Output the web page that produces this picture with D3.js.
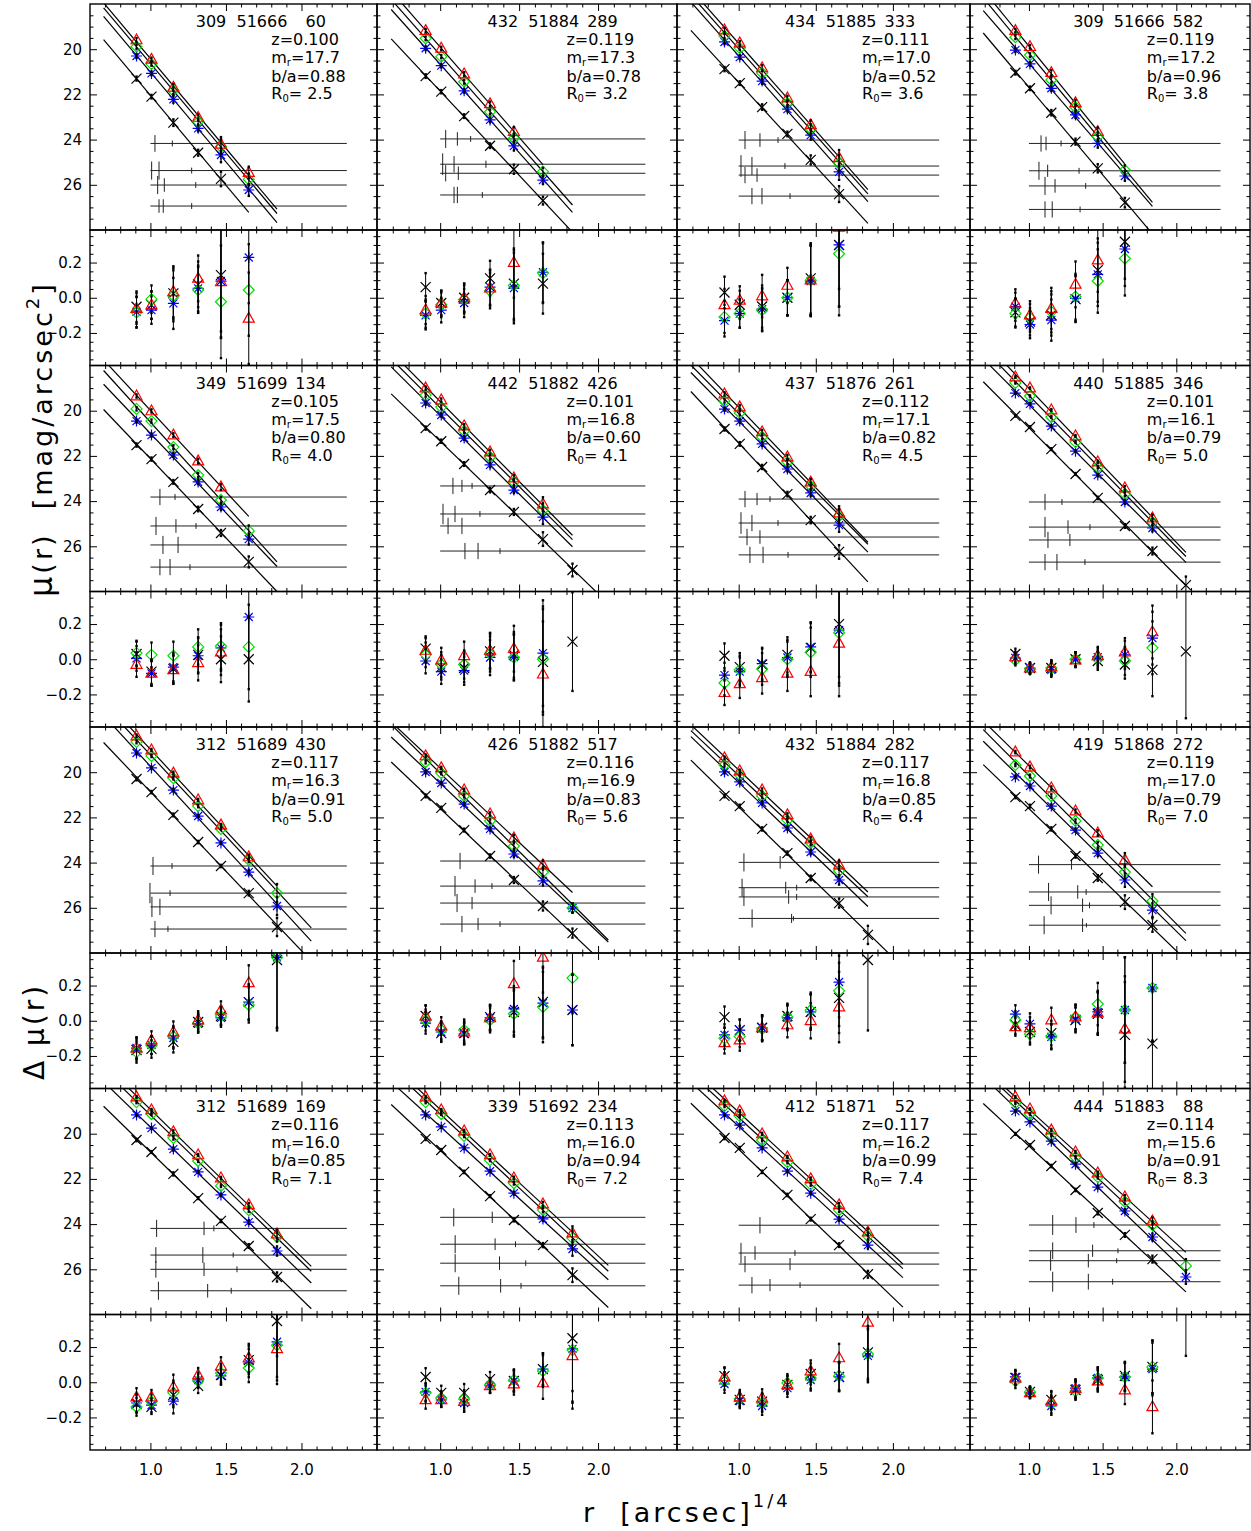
<!DOCTYPE html>
<html>
<head>
<meta charset="utf-8">
<script src="https://cdn.jsdelivr.net/npm/d3@7"></script>
<style>
body { margin: 0; background: #fff; }
text { font-family: "DejaVu Sans", sans-serif; fill: #000; }
.tick text { font-size: 15px; }
.lab { font-size: 16px; }
</style>
</head>
<body>
<svg id="fig" width="1251" height="1531"></svg>
<script>
// r^(1/4) of the aperture radii [arcsec]
var radii = [0.908, 1.007, 1.152, 1.316, 1.467, 1.651, 1.838, 2.065];
var fitStart = 0.69;

// galaxy identifiers and parameters, one entry per panel
var plates = [309, 432, 434, 309, 349, 442, 437, 440, 312, 426, 432, 419, 312, 339, 412, 444];
var mjds = [51666, 51884, 51885, 51666, 51699, 51882, 51876, 51885, 51689, 51882, 51884, 51868, 51689, 51692, 51871, 51883];
var fibers = [60, 289, 333, 582, 134, 426, 261, 346, 430, 517, 282, 272, 169, 234, 52, 88];
var redshifts = [0.100, 0.119, 0.111, 0.119, 0.105, 0.101, 0.112, 0.101, 0.117, 0.116, 0.117, 0.119, 0.116, 0.113, 0.117, 0.114];
var magR = [17.7, 17.3, 17.0, 17.2, 17.5, 16.8, 17.1, 16.1, 16.3, 16.9, 16.8, 17.0, 16.0, 16.0, 16.2, 15.6];
var axisRatio = [0.88, 0.78, 0.52, 0.96, 0.80, 0.60, 0.82, 0.79, 0.91, 0.83, 0.85, 0.79, 0.85, 0.94, 0.99, 0.91];
var r0 = [2.5, 3.2, 3.6, 3.8, 4.0, 4.1, 4.5, 5.0, 5.0, 5.6, 6.4, 7.0, 7.1, 7.2, 7.4, 8.3];

// surface brightness profiles mu(r) [mag/arcsec^2]
var muRed = [
  [19.59, 20.45, 21.69, 23.02, 24.21, 25.46],
  [19.18, 19.96, 21.10, 22.42, 23.65],
  [19.15, 19.73, 20.83, 22.16, 23.35, 24.81],
  [19.18, 19.89, 21.04, 22.37, 23.65],
  [19.35, 20.01, 21.08, 22.23, 23.38],
  [19.00, 19.53, 20.68, 21.83, 22.98, 24.13],
  [19.26, 19.84, 20.94, 22.05, 23.16, 24.53],
  [18.51, 19.00, 19.97, 21.12, 22.27, 23.42, 24.75],
  [18.40, 19.02, 20.04, 21.23, 22.34, 23.75],
  [19.28, 19.81, 20.79, 21.85, 22.91, 24.11],
  [19.37, 19.95, 20.79, 21.89, 22.96, 24.11],
  [19.11, 19.77, 20.70, 21.72, 22.69, 23.88],
  [18.38, 18.95, 19.92, 20.94, 21.96, 23.15, 24.44],
  [18.38, 18.95, 19.88, 20.94, 21.96, 23.11, 24.40],
  [18.55, 19.00, 20.01, 21.03, 22.00, 23.15, 24.35],
  [18.38, 18.91, 19.84, 20.81, 21.74, 22.80, 23.86]
];
var muGreen = [
  [19.89, 20.65, 21.84, 23.21, 24.31, 25.76],
  [19.52, 20.33, 21.44, 22.77, 23.94, 25.42],
  [19.42, 19.95, 21.05, 22.38, 23.53, 25.04],
  [19.47, 20.26, 21.36, 22.57, 23.87, 25.35],
  [19.92, 20.46, 21.61, 22.85, 23.95, 25.32],
  [19.31, 19.84, 20.90, 22.05, 23.16, 24.40],
  [19.57, 20.10, 21.16, 22.27, 23.33, 24.66],
  [18.77, 19.35, 20.28, 21.39, 22.50, 23.69, 24.93],
  [18.66, 19.28, 20.26, 21.50, 22.51, 23.88, 25.35],
  [19.55, 20.04, 21.05, 22.16, 23.27, 24.42, 26.01],
  [19.68, 20.12, 21.05, 22.12, 23.13, 24.37],
  [19.68, 20.17, 21.05, 22.16, 23.22, 24.42, 25.70],
  [18.60, 19.13, 20.19, 21.21, 22.31, 23.38, 24.57],
  [18.60, 19.13, 20.10, 21.17, 22.19, 23.38, 24.62],
  [18.77, 19.22, 20.28, 21.26, 22.24, 23.38, 24.53],
  [18.64, 19.13, 20.06, 21.04, 21.92, 23.02, 24.04, 25.85]
];
var muBlue = [
  [20.30, 21.07, 22.22, 23.50, 24.68, 26.23],
  [19.96, 20.73, 21.84, 23.13, 24.28, 25.79],
  [19.68, 20.35, 21.41, 22.65, 23.80, 25.43],
  [20.04, 20.65, 21.73, 22.91, 24.17, 25.61],
  [20.46, 21.08, 21.96, 23.15, 24.26, 25.68],
  [19.66, 20.19, 21.21, 22.40, 23.51, 24.71],
  [19.93, 20.46, 21.47, 22.58, 23.64, 25.06],
  [19.22, 19.70, 20.68, 21.79, 22.85, 24.04, 25.19],
  [19.15, 19.81, 20.79, 21.94, 23.13, 24.42, 25.92],
  [19.99, 20.48, 21.41, 22.51, 23.62, 24.81, 26.01],
  [19.99, 20.43, 21.36, 22.47, 23.53, 24.77],
  [20.21, 20.61, 21.50, 22.56, 23.58, 24.77, 26.10],
  [19.17, 19.75, 20.68, 21.69, 22.71, 23.91, 25.19],
  [19.17, 19.70, 20.63, 21.66, 22.63, 23.77, 25.10],
  [19.17, 19.62, 20.63, 21.66, 22.63, 23.78, 24.93],
  [19.00, 19.48, 20.33, 21.35, 22.36, 23.42, 24.57, 26.34]
];
var muBlack = [
  [21.30, 22.10, 23.25, 24.58, 25.74],
  [21.19, 21.88, 22.96, 24.27, 25.31, 26.70],
  [20.88, 21.50, 22.56, 23.75, 24.90, 26.41],
  [21.04, 21.73, 22.81, 24.09, 25.27, 26.79],
  [21.52, 22.14, 23.15, 24.35, 25.41, 26.69],
  [20.77, 21.35, 22.36, 23.51, 24.48, 25.68, 27.05],
  [20.81, 21.47, 22.49, 23.69, 24.84, 26.25],
  [20.23, 20.72, 21.70, 22.80, 23.86, 25.10, 26.21, 27.72],
  [20.30, 20.88, 21.89, 23.09, 24.15, 25.35, 26.85],
  [21.05, 21.58, 22.56, 23.71, 24.77, 25.92, 27.12],
  [21.05, 21.50, 22.51, 23.58, 24.68, 25.79, 27.20],
  [21.10, 21.50, 22.51, 23.71, 24.68, 25.75, 26.76],
  [20.28, 20.81, 21.78, 22.85, 23.86, 24.97, 26.34],
  [20.23, 20.72, 21.69, 22.76, 23.82, 24.93, 26.26],
  [20.19, 20.63, 21.69, 22.71, 23.78, 24.93, 26.22],
  [20.01, 20.50, 21.43, 22.49, 23.51, 24.48, 25.55]
];

// residuals from the fits, Delta mu(r)
var resRed = [
  [-0.061, -0.042, 0.034, 0.110, 0.091, -0.117],
  [-0.07, -0.03, 0.0, 0.055, 0.2],
  [-0.04, -0.015, 0.01, 0.07, 0.1, 0.4],
  [-0.032, -0.098, -0.061, 0.076, 0.214],
  [-0.03, -0.08, -0.06, -0.02, 0.04],
  [0.05, -0.005, 0.02, 0.05, 0.06, -0.085],
  [-0.19, -0.14, -0.105, -0.08, -0.07, 0.09],
  [0.013, -0.05, -0.045, -0.005, 0.02, 0.04, 0.155],
  [-0.155, -0.11, -0.064, 0.004, 0.06, 0.215],
  [0.027, -0.03, -0.064, 0.016, 0.21, 0.36],
  [-0.126, -0.11, -0.04, -0.024, 0.0, 0.078],
  [-0.035, -0.04, 0.004, 0.021, 0.044, -0.047],
  [-0.084, -0.084, -0.027, 0.041, 0.092, 0.138, 0.19],
  [-0.1, -0.1, -0.11, -0.02, -0.01, -0.004, 0.15],
  [0.03, -0.084, -0.09, -0.015, 0.064, 0.138, 0.34],
  [0.024, -0.06, -0.107, -0.038, 0.007, -0.044, -0.14]
];
var resGreen = [
  [-0.083, -0.008, 0.011, 0.044, -0.023, 0.044],
  [-0.09, -0.04, -0.01, 0.04, 0.07, 0.14],
  [-0.11, -0.09, -0.07, 0.0, 0.1, 0.25],
  [-0.089, -0.114, -0.08, 0.006, 0.095, 0.223],
  [0.035, 0.025, 0.02, 0.07, 0.075, 0.07],
  [0.025, -0.03, -0.03, 0.03, 0.01, 0.0],
  [-0.135, -0.06, -0.055, 0.0, 0.04, 0.15],
  [-0.005, -0.055, -0.05, 0.0, 0.0, -0.01, 0.065],
  [-0.178, -0.14, -0.09, -0.013, 0.027, 0.09, 0.36],
  [0.004, -0.053, -0.053, 0.004, 0.04, 0.078, 0.243],
  [-0.1, -0.09, -0.047, 0.021, 0.06, 0.17],
  [0.004, -0.075, -0.087, 0.021, 0.095, 0.061, 0.186],
  [-0.14, -0.11, -0.06, 0.007, 0.053, 0.081, 0.21],
  [-0.06, -0.09, -0.095, -0.016, 0.013, 0.064, 0.183],
  [0.007, -0.095, -0.118, -0.004, 0.024, 0.036, 0.16],
  [0.007, -0.055, -0.124, -0.05, 0.024, 0.03, 0.087]
];
var resBlue = [
  [-0.080, -0.070, -0.032, 0.053, 0.095, 0.229],
  [-0.1, -0.07, -0.03, 0.06, 0.055, 0.145],
  [-0.13, -0.09, -0.065, 0.0, 0.095, 0.3],
  [-0.051, -0.152, -0.127, -0.004, 0.133, 0.277],
  [0.005, -0.08, -0.045, 0.02, 0.065, 0.24],
  [-0.01, -0.07, -0.065, 0.01, 0.012, 0.035],
  [-0.09, -0.07, -0.025, 0.01, 0.07, 0.165],
  [0.007, -0.05, -0.06, 0.0, 0.012, 0.025, 0.12],
  [-0.155, -0.138, -0.098, -0.018, 0.016, 0.106, 0.36],
  [-0.013, -0.064, -0.075, 0.016, 0.067, 0.1, 0.061],
  [-0.08, -0.053, -0.04, 0.016, 0.05, 0.22],
  [0.038, -0.018, -0.092, 0.01, 0.05, 0.061, 0.186],
  [-0.118, -0.13, -0.107, 0.013, 0.036, 0.109, 0.23],
  [-0.055, -0.1, -0.118, -0.021, 0.007, 0.075, 0.19],
  [-0.01, -0.107, -0.135, -0.033, 0.013, 0.03, 0.15],
  [0.03, -0.06, -0.135, -0.033, 0.024, 0.03, 0.075]
];
var resBlack = [
  [-0.051, -0.042, 0.025, 0.076, 0.129],
  [0.06, -0.03, 0.0, 0.11, 0.08, 0.08],
  [0.03, -0.04, -0.05, 0.0, 0.11, 0.3],
  [-0.083, -0.136, -0.098, -0.008, 0.157, 0.318],
  [0.03, -0.07, -0.055, 0.025, 0.0, 0.0],
  [0.06, -0.045, -0.05, 0.045, 0.025, -0.015, 0.1],
  [0.02, -0.045, -0.03, 0.025, 0.065, 0.2],
  [0.03, -0.05, -0.05, 0.0, -0.01, -0.03, -0.06, 0.045],
  [-0.166, -0.16, -0.12, -0.007, 0.027, 0.106, 0.345],
  [0.027, -0.07, -0.07, 0.021, 0.05, 0.107, 0.061],
  [0.021, -0.053, -0.04, 0.027, 0.05, 0.13, 0.345],
  [-0.024, -0.064, -0.07, 0.004, 0.04, -0.08, -0.13],
  [-0.124, -0.14, -0.072, -0.021, 0.041, 0.126, 0.348],
  [0.03, -0.06, -0.06, 0.018, 0.007, 0.075, 0.25],
  [0.035, -0.1, -0.11, -0.015, 0.047, 0.03, 0.17],
  [0.024, -0.055, -0.1, -0.044, 0.013, 0.036, 0.087, 0.45]
];

// 1-sigma errors per radius [mag]
var errors = [
  [0.087, 0.078, 0.145, 0.13, 0.32, 0.26],
  [0.08, 0.07, 0.08, 0.1, 0.2, 0.17],
  [0.09, 0.08, 0.12, 0.1, 0.2, 0.35],
  [0.08, 0.078, 0.117, 0.13, 0.18, 0.21],
  [0.07, 0.07, 0.08, 0.1, 0.13, 0.24],
  [0.07, 0.07, 0.08, 0.1, 0.13, 0.3, 0.28],
  [0.07, 0.08, 0.09, 0.1, 0.14, 0.3],
  [0.03, 0.03, 0.04, 0.04, 0.05, 0.08, 0.15, 0.38],
  [0.06, 0.05, 0.06, 0.05, 0.05, 0.1, 0.4],
  [0.06, 0.05, 0.06, 0.07, 0.13, 0.2, 0.2],
  [0.06, 0.06, 0.07, 0.07, 0.1, 0.2, 0.4],
  [0.05, 0.06, 0.07, 0.07, 0.12, 0.3, 0.3],
  [0.05, 0.04, 0.07, 0.04, 0.05, 0.08, 0.2],
  [0.05, 0.04, 0.05, 0.04, 0.06, 0.09, 0.3],
  [0.05, 0.04, 0.05, 0.05, 0.06, 0.08, 0.15],
  [0.04, 0.03, 0.05, 0.05, 0.06, 0.08, 0.15, 0.3]
];

// sky levels [mag/arcsec^2], four per panel
var skyLevels = [
  [24.17, 25.37, 26.01, 26.94], [23.97, 25.09, 25.49, 26.45], [24.02, 25.17, 25.57, 26.50], [24.17, 25.38, 26.05, 27.09],
  [23.82, 25.10, 25.94, 26.92], [23.33, 24.57, 25.10, 26.21], [23.91, 24.97, 25.59, 26.38], [24.04, 25.15, 25.72, 26.70],
  [24.15, 25.35, 25.96, 26.94], [23.93, 25.04, 25.79, 26.72], [23.99, 25.11, 25.52, 26.47], [24.09, 25.30, 25.89, 26.77],
  [24.19, 25.37, 26.00, 26.95], [23.70, 24.89, 25.73, 26.73], [24.05, 25.28, 25.77, 26.70], [24.04, 25.18, 25.62, 26.55]
];
var skyStart = 1.0, skyEnd = 2.3;
// marks on each sky line: [r^(1/4), half length in mag]
var skyMarks = [
  [[[1.03,0.37],[1.145,0.13]], [[1.008,0.4],[1.057,0.4],[1.273,0.13]], [[1.048,0.4],[1.092,0.3],[1.30,0.13]], [[1.057,0.3],[1.085,0.3],[1.273,0.13]]],
  [[[1.035,0.4],[1.109,0.3],[1.193,0.13]], [[1.016,0.48],[1.088,0.36],[1.29,0.16]], [[1.035,0.36],[1.115,0.3]], [[1.088,0.36],[1.109,0.36],[1.267,0.13]]],
  [[[1.041,0.4],[1.138,0.3],[1.255,0.13]], [[1.015,0.48],[1.086,0.4],[1.30,0.13]], [[1.041,0.36],[1.119,0.3]], [[1.086,0.36],[1.151,0.36],[1.333,0.13]]],
  [[[1.082,0.36],[1.116,0.3],[1.218,0.13]], [[1.068,0.4],[1.127,0.27],[1.34,0.13]], [[1.109,0.4],[1.177,0.3],[1.385,0.13]], [[1.109,0.36],[1.158,0.36],[1.347,0.13]]],
  [[[1.063,0.36],[1.163,0.13]], [[1.037,0.4],[1.169,0.3],[1.302,0.13]], [[1.083,0.4],[1.183,0.36]], [[1.063,0.36],[1.13,0.36],[1.262,0.13]]],
  [[[1.081,0.36],[1.138,0.27],[1.202,0.13]], [[1.018,0.45],[1.094,0.36],[1.252,0.13]], [[1.05,0.36],[1.138,0.36]], [[1.157,0.36],[1.24,0.36],[1.379,0.13]]],
  [[[1.041,0.36],[1.119,0.27],[1.203,0.13]], [[1.015,0.48],[1.086,0.36],[1.255,0.13]], [[1.054,0.36],[1.138,0.3]], [[1.073,0.36],[1.158,0.36],[1.32,0.13]]],
  [[[1.109,0.36],[1.224,0.13]], [[1.109,0.45],[1.265,0.3],[1.414,0.13]], [[1.129,0.36],[1.278,0.27]], [[1.109,0.36],[1.19,0.36],[1.38,0.13]]],
  [[[1.017,0.4],[1.143,0.13]], [[0.997,0.45],[1.13,0.13]], [[1.01,0.45],[1.063,0.36]], [[1.03,0.36],[1.116,0.13]]],
  [[[1.126,0.36]], [[1.094,0.45],[1.221,0.3],[1.328,0.13]], [[1.107,0.4],[1.202,0.27]], [[1.138,0.36],[1.24,0.27],[1.379,0.13]]],
  [[[1.034,0.4],[1.269,0.28]], [[1.022,0.4],[1.305,0.26],[1.376,0.13]], [[1.034,0.4],[1.324,0.3],[1.376,0.13]], [[1.087,0.4],[1.343,0.2],[1.355,0.1]]],
  [[[1.065,0.4],[1.289,0.22]], [[1.133,0.4],[1.331,0.3],[1.388,0.13]], [[1.15,0.4],[1.364,0.3],[1.411,0.13]], [[1.103,0.4],[1.364,0.3],[1.39,0.1]]],
  [[[1.041,0.38],[1.355,0.3],[1.42,0.13]], [[1.036,0.35],[1.347,0.35],[1.548,0.11]], [[1.036,0.37],[1.355,0.3],[1.573,0.13]], [[1.053,0.4],[1.379,0.3],[1.535,0.13]]],
  [[[1.086,0.4],[1.33,0.25]], [[1.095,0.4],[1.348,0.26],[1.477,0.13]], [[1.095,0.4],[1.376,0.3],[1.542,0.13]], [[1.118,0.4],[1.383,0.3],[1.512,0.13]]],
  [[[1.138,0.36]], [[1.015,0.45],[1.106,0.3],[1.365,0.13]], [[1.041,0.36],[1.333,0.27]], [[1.086,0.36],[1.203,0.27],[1.398,0.13]]],
  [[[1.161,0.44],[1.319,0.35],[1.441,0.13]], [[1.161,0.37],[1.432,0.27],[1.604,0.11]], [[1.147,0.44],[1.403,0.3],[1.595,0.11]], [[1.161,0.44],[1.403,0.35],[1.568,0.13]]]
];

// tick values
var xMajor = [1.0, 1.5, 2.0];
var muMajor = [20, 22, 24, 26];
var resMajor = [-0.2, 0.0, 0.2];

// layout
var colEdges = [90, 377, 677, 970, 1250];
var rowTop0 = 4, rowStep = 361.5, upperH = 226, lowerH = 135.5;
var tickMaj = 7, tickMin = 3.5;

var svg = d3.select("#fig");

var bands = [
  {mu: muBlack, res: resBlack, sym: "x", color: "#000"},
  {mu: muBlue, res: resBlue, sym: "ast", color: "#0000ff"},
  {mu: muGreen, res: resGreen, sym: "dia", color: "#00e000"},
  {mu: muRed, res: resRed, sym: "tri", color: "#ff0000"}
];

function symbolPath(type) {
  if (type == "tri") return "M0,-6L5.5,3.8L-5.5,3.8Z";
  if (type == "dia") return "M0,-5.5L5.5,0L0,5.5L-5.5,0Z";
  if (type == "ast") return "M-5.5,0H5.5M0,-5.5V5.5M-4,-4L4,4M-4,4L4,-4";
  return "M-5,-5L5,5M-5,5L5,-5";
}

function linfit(xs, ys) {
  var mx = d3.mean(xs), my = d3.mean(ys);
  var sxy = d3.sum(xs, function(v, i) { return (v - mx) * (ys[i] - my); });
  var sxx = d3.sum(xs, function(v) { return (v - mx) * (v - mx); });
  var b = sxy / sxx;
  return {a: my - b * mx, b: b};
}

function drawAxes(g, x, y, yMajor, yMinor, showX, showY, yFmt) {
  var xr = x.range(), yr = y.range();
  var xMinor = d3.range(0.7, 2.45, 0.1).filter(function(v) {
    return xMajor.every(function(m) { return Math.abs(m - v) > 0.01; });
  });
  function put(axis, tr) {
    g.append("g").attr("transform", tr).call(axis)
      .call(function(s) { s.select(".domain").remove(); })
      .attr("font-family", null).attr("font-size", null);
  }
  [[d3.axisBottom, "translate(0," + yr[1] + ")", showX], [d3.axisTop, "translate(0," + yr[0] + ")", false]].forEach(function(a) {
    put(a[0](x).tickValues(xMajor).tickSize(-tickMaj).tickPadding(14)
      .tickFormat(a[2] ? d3.format(".1f") : ""), a[1]);
    put(a[0](x).tickValues(xMinor).tickSize(-tickMin).tickFormat(""), a[1]);
  });
  [[d3.axisLeft, "translate(" + xr[0] + ",0)", showY], [d3.axisRight, "translate(" + xr[1] + ",0)", false]].forEach(function(a) {
    put(a[0](y).tickValues(yMajor).tickSize(-tickMaj).tickPadding(8)
      .tickFormat(a[2] ? yFmt : ""), a[1]);
    put(a[0](y).tickValues(yMinor).tickSize(-tickMin).tickFormat(""), a[1]);
  });
  g.append("rect")
    .attr("x", xr[0]).attr("y", yr[0])
    .attr("width", xr[1] - xr[0]).attr("height", yr[1] - yr[0])
    .attr("fill", "none").attr("stroke", "#000").attr("stroke-width", 1.4);
}

function drawErrors(g, x, y, vals, errs) {
  vals.forEach(function(v, i) {
    var e = errs[i];
    if (e == null) return;
    var px = x(radii[i]);
    g.append("line")
      .attr("x1", px).attr("x2", px)
      .attr("y1", y(v - e)).attr("y2", y(v + e))
      .attr("stroke", "#000").attr("stroke-width", 1);
    [v - e, v + e].forEach(function(w) {
      g.append("rect").attr("x", px - 1.2).attr("y", y(w) - 1.2)
        .attr("width", 2.4).attr("height", 2.4).attr("fill", "#000");
    });
  });
}

function drawMarkers(g, x, y, vals, band) {
  g.selectAll(null).data(vals).enter().append("path")
    .attr("d", symbolPath(band.sym))
    .attr("transform", function(d, i) { return "translate(" + x(radii[i]) + "," + y(d) + ")"; })
    .attr("fill", "none").attr("stroke", band.color).attr("stroke-width", 1.2);
}

var minorMu = d3.range(18.5, 28, 0.5).filter(function(v) { return v % 2 != 0; });
var minorRes = d3.range(-0.35, 0.36, 0.05).filter(function(v) {
  return resMajor.every(function(m) { return Math.abs(m - v) > 0.01; });
});

for (var p = 0; p < 16; p++) {
  var row = Math.floor(p / 4), col = p % 4;
  var T = rowTop0 + row * rowStep;
  var x = d3.scaleLinear().domain([0.6, 2.5]).range([colEdges[col], colEdges[col + 1]]);
  var yU = d3.scaleLinear().domain([18, 28]).range([T, T + upperH]);
  var yL = d3.scaleLinear().domain([0.385, -0.385]).range([T + upperH, T + upperH + lowerH]);

  // ---- upper panel: profiles ----
  var cu = "cu" + p, cl = "cl" + p;
  svg.append("clipPath").attr("id", cu).append("rect")
    .attr("x", x.range()[0]).attr("y", T).attr("width", x.range()[1] - x.range()[0]).attr("height", upperH);
  svg.append("clipPath").attr("id", cl).append("rect")
    .attr("x", x.range()[0]).attr("y", T + upperH).attr("width", x.range()[1] - x.range()[0]).attr("height", lowerH);

  var gu = svg.append("g").attr("clip-path", "url(#" + cu + ")");

  skyLevels[p].forEach(function(s, k) {
    gu.append("line")
      .attr("x1", x(skyStart)).attr("x2", x(skyEnd))
      .attr("y1", yU(s)).attr("y2", yU(s))
      .attr("stroke", "#222").attr("stroke-width", 1);
    skyMarks[p][k].forEach(function(m) {
      gu.append("line")
        .attr("x1", x(m[0])).attr("x2", x(m[0]))
        .attr("y1", yU(s - m[1])).attr("y2", yU(s + m[1]))
        .attr("stroke", "#222").attr("stroke-width", 1);
    });
  });

  bands.forEach(function(band) {
    var vals = band.mu[p];
    var fit = linfit(radii.slice(0, vals.length), vals);
    var xEnd = radii[Math.min(vals.length, radii.length - 1)];
    gu.append("line")
      .attr("x1", x(fitStart)).attr("y1", yU(fit.a + fit.b * fitStart))
      .attr("x2", x(xEnd)).attr("y2", yU(fit.a + fit.b * xEnd))
      .attr("stroke", "#000").attr("stroke-width", 1.2);
  });
  bands.forEach(function(band) { drawMarkers(gu, x, yU, band.mu[p], band); });
  bands.forEach(function(band) { drawErrors(gu, x, yU, band.mu[p], errors[p]); });

  // labels
  var gt = svg.append("g").attr("class", "lab");
  gt.append("text").attr("x", x(1.3)).attr("y", T + 23).style("white-space", "pre")
    .text(plates[p] + "  " + mjds[p] + "\u2002" + String(fibers[p]).padStart(3, "\u2007"));
  gt.append("text").attr("x", x(1.8)).attr("y", T + 41).text("z=" + redshifts[p].toFixed(3));
  var tm = gt.append("text").attr("x", x(1.8)).attr("y", T + 59);
  tm.append("tspan").text("m");
  tm.append("tspan").attr("font-size", 10).attr("dy", 3).text("r");
  tm.append("tspan").attr("dy", -3).text("=" + magR[p].toFixed(1));
  gt.append("text").attr("x", x(1.8)).attr("y", T + 77.5).text("b/a=" + axisRatio[p].toFixed(2));
  var tr = gt.append("text").attr("x", x(1.8)).attr("y", T + 95).style("white-space", "pre");
  tr.append("tspan").text("R");
  tr.append("tspan").attr("font-size", 10).attr("dy", 3).text("0");
  tr.append("tspan").attr("dy", -3).text("= " + r0[p].toFixed(1));

  drawAxes(svg.append("g"), x, yU, muMajor, minorMu, false, col == 0, d3.format("d"));

  // ---- lower panel: residuals ----
  var gl = svg.append("g").attr("clip-path", "url(#" + cl + ")");
  bands.forEach(function(band) { drawMarkers(gl, x, yL, band.res[p], band); });
  bands.forEach(function(band) { drawErrors(gl, x, yL, band.res[p], errors[p]); });

  drawAxes(svg.append("g"), x, yL, resMajor, minorRes, row == 3, col == 0, d3.format(".1f"));
}

// axis titles
var yt = svg.append("text")
  .attr("transform", "translate(52,597) rotate(-90)")
  .style("font-size", "27px").style("letter-spacing", "3px").style("white-space", "pre");
yt.append("tspan").style("font-size", "32px").text("\u03bc");
yt.append("tspan").text("(r)  [mag/arcsec");
yt.append("tspan").style("font-size", "18px").attr("dy", -13).text("2");
yt.append("tspan").attr("dy", 13).text("]");

svg.append("text")
  .attr("transform", "translate(44,1080) rotate(-90)")
  .style("font-size", "28px").style("letter-spacing", "3px").style("white-space", "pre")
  .text("\u0394 \u03bc(r)");

var xt = svg.append("text").attr("x", 583).attr("y", 1522)
  .style("font-size", "27px").style("letter-spacing", "3px").style("white-space", "pre");
xt.append("tspan").text("r  [arcsec]");
xt.append("tspan").style("font-size", "18px").attr("dy", -15).text("1/4");
</script>
</body>
</html>
